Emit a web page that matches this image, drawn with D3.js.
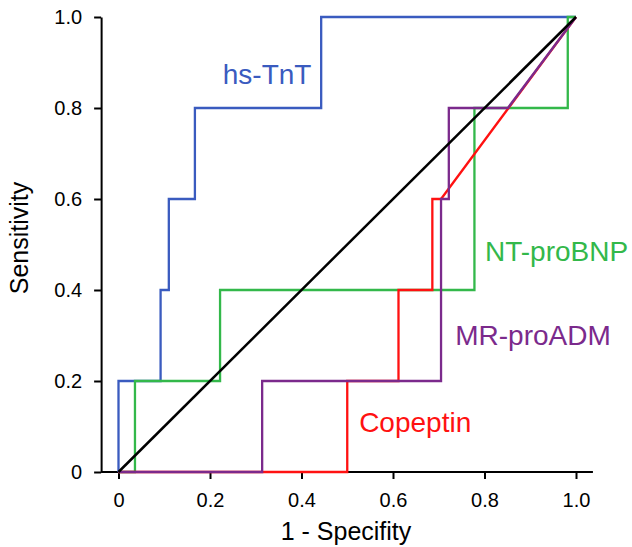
<!DOCTYPE html>
<html>
<head>
<meta charset="utf-8">
<script src="https://cdn.jsdelivr.net/npm/d3@7"></script>
<style>
  html, body { margin: 0; padding: 0; background: #fff; }
  svg text { font-family: "Liberation Sans", Arial, Helvetica, sans-serif; }
</style>
</head>
<body>
<div id="chart"></div>
<script>
// Series names and colours
const seriesNames = ['hs-TnT', 'NT-proBNP', 'Copeptin', 'MR-proADM'];
const seriesColors = ['#3a5bbf', '#33b84a', '#ff1111', '#7b2a8c'];

// ROC vertices: 1 - specificity (x) and sensitivity (y)
const hsTnTX = [0, 0, 0.092, 0.092, 0.11, 0.11, 0.167, 0.167, 0.443, 0.443, 1];
const hsTnTY = [0, 0.2, 0.2, 0.4, 0.4, 0.6, 0.6, 0.8, 0.8, 1, 1];
const ntProBnpX = [0, 0.036, 0.036, 0.222, 0.222, 0.778, 0.778, 0.982, 0.982, 1];
const ntProBnpY = [0, 0, 0.2, 0.2, 0.4, 0.4, 0.8, 0.8, 1, 1];
const copeptinX = [0, 0.5, 0.5, 0.612, 0.612, 0.686, 0.686, 0.705, 1];
const copeptinY = [0, 0, 0.2, 0.2, 0.4, 0.4, 0.6, 0.6, 1];
const mrProAdmX = [0, 0.314, 0.314, 0.705, 0.705, 0.722, 0.722, 0.851, 1];
const mrProAdmY = [0, 0, 0.2, 0.2, 0.6, 0.6, 0.8, 0.8, 1];

// Reference line
const diagX = [0, 1];
const diagY = [0, 1];

// Ticks
const xTicks = [0, 0.2, 0.4, 0.6, 0.8, 1.0];
const yTicks = [0, 0.2, 0.4, 0.6, 0.8, 1.0];
const xTickLabels = ['0', '0.2', '0.4', '0.6', '0.8', '1.0'];
const yTickLabels = ['0', '0.2', '0.4', '0.6', '0.8', '1.0'];

// Label anchor points (data coords)
const labelX = [0.228, 0.801, 0.526, 0.736];
const labelY = [0.853, 0.464, 0.088, 0.279];

const width = 632, height = 547;

let svg = d3.select('#chart').append('svg')
    .attr('width', width)
    .attr('height', height);

let x = d3.scaleLinear().domain([0, 1]).range([118.5, 576]);
let y = d3.scaleLinear().domain([0, 1]).range([472, 17]);

const axisLeftAt = x(-0.038);
const axisRightEnd = x(1.037);

// Axes
let xAxis = d3.axisBottom(x)
    .tickValues(xTicks)
    .tickFormat((d, i) => xTickLabels[i])
    .tickSize(7)
    .tickSizeOuter(0)
    .tickPadding(14);

let gx = svg.append('g')
    .attr('transform', 'translate(0,' + y(0) + ')')
    .call(xAxis);
gx.select('.domain')
    .attr('d', 'M' + axisLeftAt + ',0H' + axisRightEnd);

let yAxis = d3.axisLeft(y)
    .tickValues(yTicks)
    .tickFormat((d, i) => yTickLabels[i])
    .tickSize(7)
    .tickSizeOuter(0)
    .tickPadding(12);

let gy = svg.append('g')
    .attr('transform', 'translate(' + axisLeftAt + ',0)')
    .call(yAxis);

svg.selectAll('.domain, .tick line')
    .attr('stroke', '#000')
    .attr('stroke-width', 2);
svg.selectAll('.tick text')
    .attr('fill', '#000')
    .style('font-size', '20px');

// Curves
const line = d3.line()
    .x((d) => x(d[0]))
    .y((d) => y(d[1]));

const curves = [
  d3.zip(hsTnTX, hsTnTY),
  d3.zip(ntProBnpX, ntProBnpY),
  d3.zip(copeptinX, copeptinY),
  d3.zip(mrProAdmX, mrProAdmY)
];

// draw order: blue, green, red, purple
svg.selectAll('path.roc')
    .data(curves)
    .enter()
    .append('path')
    .attr('class', 'roc')
    .attr('d', line)
    .attr('fill', 'none')
    .attr('stroke', (d, i) => seriesColors[i])
    .attr('stroke-width', 2.3)
    .attr('stroke-linejoin', 'miter');

svg.append('path')
    .attr('d', line(d3.zip(diagX, diagY)))
    .attr('fill', 'none')
    .attr('stroke', '#000')
    .attr('stroke-width', 2.5);

// Series labels
svg.selectAll('text.label')
    .data(seriesNames)
    .enter()
    .append('text')
    .attr('class', 'label')
    .attr('x', (d, i) => x(labelX[i]))
    .attr('y', (d, i) => y(labelY[i]))
    .attr('fill', (d, i) => seriesColors[i])
    .style('font-size', '28px')
    .text((d) => d);

// Axis titles
svg.append('text')
    .attr('x', 346)
    .attr('y', 540)
    .attr('text-anchor', 'middle')
    .style('font-size', '25px')
    .text('1 - Specifity');

svg.append('text')
    .attr('transform', 'translate(28,238) rotate(-90)')
    .attr('text-anchor', 'middle')
    .style('font-size', '25px')
    .text('Sensitivity');
</script>
</body>
</html>
